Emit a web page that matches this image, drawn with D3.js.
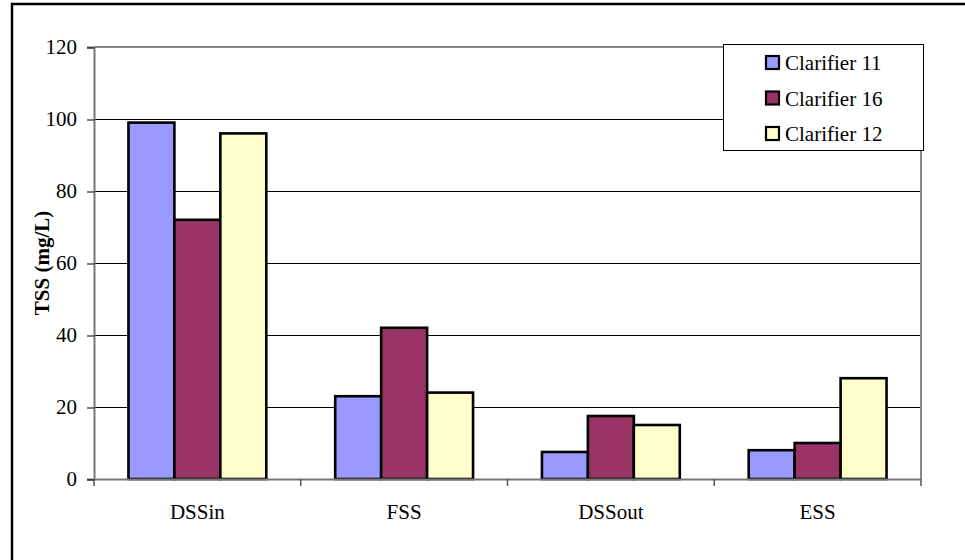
<!DOCTYPE html>
<html>
<head>
<meta charset="utf-8">
<script src="https://cdn.jsdelivr.net/npm/d3@7"></script>
<style>
  body { margin: 0; background: #fff; }
  svg { display: block; }
  text { font-family: "Liberation Serif", "Times New Roman", "DejaVu Serif", serif; }
</style>
</head>
<body>
<svg id="chart" width="965" height="560"></svg>
<script>
const categories = ["DSSin", "FSS", "DSSout", "ESS"];
const seriesNames = ["Clarifier 11", "Clarifier 16", "Clarifier 12"];
const clarifier11 = [99, 23, 7.5, 8];
const clarifier16 = [72, 42, 17.5, 10];
const clarifier12 = [96, 24, 15, 28];
const yTicks = [0, 20, 40, 60, 80, 100, 120];
const colors = ["#9999ff", "#993366", "#ffffcc"];

const series = [clarifier11, clarifier16, clarifier12];

const svg = d3.select("#chart");
const plotLeft = 94, plotRight = 921, plotTop = 47, plotBottom = 479;

// outer frame, runs off the page on the right and bottom
svg.append("rect")
  .attr("x", 12).attr("y", 4)
  .attr("width", 1000).attr("height", 600)
  .attr("fill", "none").attr("stroke", "#000").attr("stroke-width", 2.5);

const x0 = d3.scaleBand().domain(categories).range([plotLeft, plotRight]);
const x1 = d3.scaleBand().domain(d3.range(series.length))
  .range([x0.bandwidth() / 6, x0.bandwidth() * 5 / 6]);
const y = d3.scaleLinear().domain([0, 120]).range([plotBottom, plotTop]);

// grid lines
svg.append("g")
  .selectAll("line")
  .data(yTicks.filter(d => d > 0 && d < 120))
  .join("line")
  .attr("x1", plotLeft).attr("x2", plotRight)
  .attr("y1", d => y(d) + 0.5).attr("y2", d => y(d) + 0.5)
  .attr("stroke", "#000").attr("stroke-width", 1);

// plot area border (top and right)
svg.append("path")
  .attr("d", `M${plotLeft},${y(120)}H${plotRight}V${plotBottom}`)
  .attr("fill", "none").attr("stroke", "#888").attr("stroke-width", 2);

// bars
svg.append("g")
  .selectAll("g")
  .data(categories)
  .join("g")
  .attr("transform", d => `translate(${x0(d)},0)`)
  .selectAll("rect")
  .data((d, i) => series.map((s, j) => ({ j, v: s[i] })))
  .join("rect")
  .attr("x", d => x1(d.j))
  .attr("width", x1.bandwidth())
  .attr("y", d => y(d.v))
  .attr("height", d => y(0) - y(d.v))
  .attr("fill", d => colors[d.j])
  .attr("stroke", "#000").attr("stroke-width", 2.6);

// y axis
const yAxis = svg.append("g")
  .attr("transform", `translate(${plotLeft},0)`)
  .call(d3.axisLeft(y).tickValues(yTicks).tickSize(7).tickPadding(10));
yAxis.attr("font-family", null);
yAxis.select(".domain").attr("stroke", "#777").attr("stroke-width", 2);
yAxis.selectAll(".tick line").attr("stroke", "#000").attr("transform", "translate(0,0.5)");
yAxis.selectAll(".tick text").attr("font-size", 21).attr("fill", "#000");

// x axis with ticks on category boundaries
const xAxis = svg.append("g")
  .attr("transform", `translate(0,${plotBottom})`)
  .call(d3.axisBottom(x0).tickSize(0).tickPadding(25));
xAxis.attr("font-family", null);
xAxis.select(".domain").attr("stroke", "#777").attr("stroke-width", 2);
xAxis.selectAll(".tick text").attr("font-size", 21).attr("fill", "#000");
xAxis.selectAll(".bound")
  .data(categories.map(c => x0(c)).concat([plotRight]))
  .join("line")
  .attr("class", "bound")
  .attr("x1", d => d).attr("x2", d => d)
  .attr("y1", 0).attr("y2", 7)
  .attr("stroke", "#555").attr("stroke-width", 1.5);

// y axis title
svg.append("text")
  .attr("transform", `translate(49,${(plotTop + plotBottom) / 2}) rotate(-90)`)
  .attr("text-anchor", "middle")
  .attr("font-size", 21).attr("font-weight", "bold")
  .text("TSS (mg/L)");

// legend
const legend = svg.append("g");
legend.append("rect")
  .attr("x", 723.5).attr("y", 44.5)
  .attr("width", 200).attr("height", 106)
  .attr("fill", "#fff").attr("stroke", "#000").attr("stroke-width", 1);
const items = legend.selectAll("g.item")
  .data(seriesNames)
  .join("g")
  .attr("class", "item")
  .attr("transform", (d, i) => `translate(766,${63 + i * 35.5})`);
items.append("rect")
  .attr("x", 0).attr("y", -7)
  .attr("width", 13).attr("height", 13)
  .attr("fill", (d, i) => colors[i])
  .attr("stroke", "#000").attr("stroke-width", 2.2);
items.append("text")
  .attr("x", 19).attr("y", 7)
  .attr("font-size", 21)
  .text(d => d);
</script>
</body>
</html>
